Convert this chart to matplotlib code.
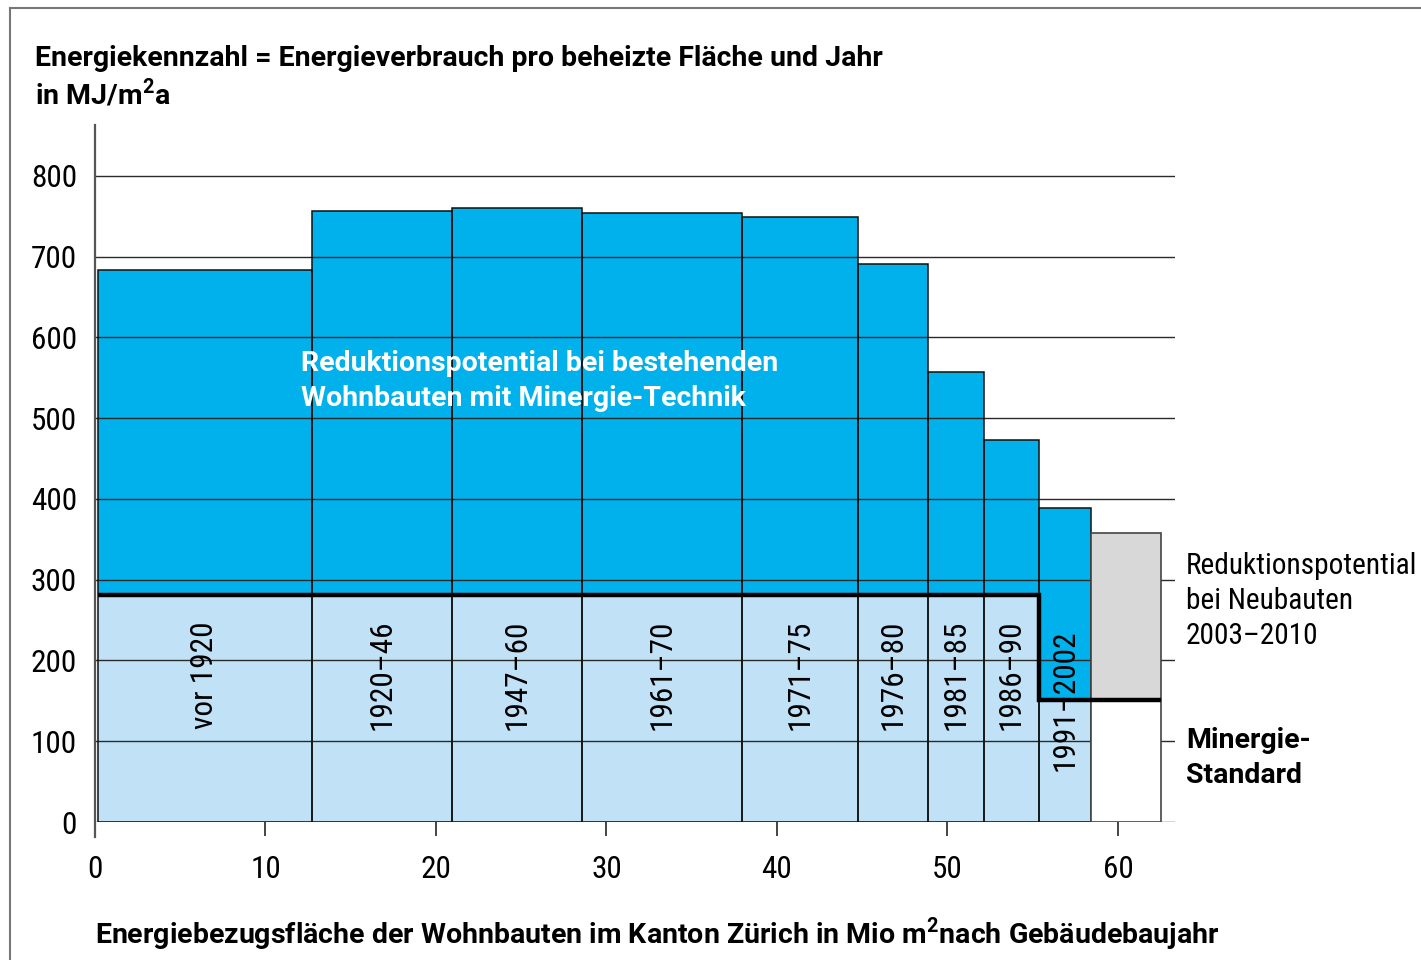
import matplotlib
matplotlib.use("Agg")
import matplotlib.pyplot as plt
from matplotlib import font_manager
from matplotlib.patches import Rectangle
import numpy as np

# ---------------- data ----------------
periods = ['vor 1920', '1920–46', '1947–60', '1961–70', '1971–75',
           '1976–80', '1981–85', '1986–90', '1991–2002']
areas = [12.6, 8.2, 7.6, 9.4, 6.8, 4.1, 3.3, 3.2, 3.1]          # Mio m²
energy = [683, 757, 760, 754, 749, 691, 557, 473, 389]           # MJ/m²a
minergie_existing = 281
minergie_new = 151
new_area = 4.05
new_energy = 358
y_ticks = [0, 100, 200, 300, 400, 500, 600, 700, 800]
x_ticks = [0, 10, 20, 30, 40, 50, 60]

# ---------------- fonts ----------------
names = {f.name for f in font_manager.fontManager.ttflist}
reg_fam = ['Roboto Condensed', 'DejaVu Sans'] if 'Roboto Condensed' in names else ['Liberation Sans Narrow', 'DejaVu Sans']
bold_fam = ['Roboto', 'DejaVu Sans']
plt.rcParams['font.family'] = reg_fam
plt.rcParams['mathtext.fontset'] = 'custom'
plt.rcParams['mathtext.rm'] = 'Roboto'
plt.rcParams['mathtext.bf'] = 'Roboto:bold'

REG = 22.5
BOLD = 20.5

W, H = 1421, 960
fig = plt.figure(figsize=(W / 100, H / 100), dpi=100)

def px(x, y):
    return x / W, 1 - y / H

ax_l, ax_r, ax_t, ax_b = 95, 1175, 125, 822
ax = fig.add_axes([ax_l / W, 1 - ax_b / H, (ax_r - ax_l) / W, (ax_b - ax_t) / H])
x0 = 0.15
ax.set_xlim(0, 63.35)
ax.set_ylim(0, 863)

dark_blue = '#00B1EB'
light_blue = '#C0E1F6'
grey = '#D8D8D8'

lefts = x0 + np.concatenate([[0], np.cumsum(areas)[:-1]])
targets = [minergie_existing] * (len(periods) - 1) + [minergie_new]
for l, w, e, t in zip(lefts, areas, energy, targets):
    ax.add_patch(Rectangle((l, 0), w, t, facecolor=light_blue, edgecolor='none', zorder=1))
    ax.add_patch(Rectangle((l, t), w, e - t, facecolor=dark_blue, edgecolor='none', zorder=1))

# grid lines
for yt in y_ticks:
    ax.axhline(yt, color='#2a2a2a', lw=1.0, zorder=2)

# bar outlines
for l, w, e in zip(lefts, areas, energy):
    ax.add_patch(Rectangle((l, 0), w, e, facecolor='none', edgecolor='#111111', lw=1.1, zorder=3))

# new buildings
nl = x0 + sum(areas)
ax.add_patch(Rectangle((nl, 0), new_area, minergie_new, facecolor='white', edgecolor='#444444', lw=1.2, zorder=3))
ax.add_patch(Rectangle((nl, minergie_new), new_area, new_energy - minergie_new, facecolor=grey,
                       edgecolor='#444444', lw=1.2, zorder=3))

# Minergie step line
step_x = [x0, lefts[-1], lefts[-1], nl + new_area]
step_y = [minergie_existing, minergie_existing, minergie_new, minergie_new]
ax.plot(step_x, step_y, color='black', lw=3.2, zorder=5, solid_capstyle='butt', solid_joinstyle='miter')

# period labels
for i, (l, w, lab) in enumerate(zip(lefts, areas, periods)):
    yc = 182 if i < len(periods) - 1 else 151
    ax.text(l + w / 2, yc, lab, rotation=90, ha='center', va='center', fontsize=REG,
            color='black', zorder=6)

ax.text(12.1, 584, 'Reduktionspotential bei bestehenden\nWohnbauten mit Minergie-Technik',
        color='white', fontsize=BOLD, fontweight='bold', family=bold_fam,
        ha='left', va='top', linespacing=1.37, zorder=6)

# spines and ticks
for s in ['top', 'right', 'bottom']:
    ax.spines[s].set_visible(False)
ax.spines['left'].set_color('#555555')
ax.spines['left'].set_linewidth(1.6)
ax.spines['left'].set_bounds(-18, 863)
ax.set_xticks(x_ticks)
ax.set_xticklabels([str(v) for v in x_ticks], fontsize=REG)
ax.tick_params(axis='x', length=10, width=1.4, color='#444444', pad=14, direction='out')
ax.set_yticks(y_ticks)
ax.set_yticklabels([str(v) for v in y_ticks], fontsize=REG)
ax.tick_params(axis='y', length=0, pad=13)

# texts
fig.text(*px(35, 58), 'Energiekennzahl = Energieverbrauch pro beheizte Fläche und Jahr',
         fontsize=BOLD, fontweight='bold', family=bold_fam, va='center', ha='left')
fig.text(*px(35, 94), r'in MJ/m$^{\mathbf{2}}$a',
         fontsize=BOLD, fontweight='bold', family=bold_fam, va='center', ha='left')
fig.text(*px(95, 934), r'Energiebezugsfläche der Wohnbauten im Kanton Zürich in Mio m$^{\mathbf{2}}$nach Gebäudebaujahr',
         fontsize=BOLD, fontweight='bold', family=bold_fam, va='center', ha='left')
fig.text(*px(1186, 601), 'Reduktionspotential\nbei Neubauten\n2003–2010',
         fontsize=21.2, va='center', ha='left', linespacing=1.31)
fig.text(*px(1186, 758), 'Minergie-\nStandard',
         fontsize=BOLD, fontweight='bold', family=bold_fam, va='center', ha='left', linespacing=1.42)

# outer frame (left and top only visible)
fig.add_artist(plt.Line2D([10 / W, 10 / W], [0, 1 - 8 / H], transform=fig.transFigure,
                          color='#777777', lw=1.5))
fig.add_artist(plt.Line2D([10 / W, 1], [1 - 8 / H, 1 - 8 / H], transform=fig.transFigure,
                          color='#777777', lw=1.5))

fig.savefig('out.png', dpi=100)
